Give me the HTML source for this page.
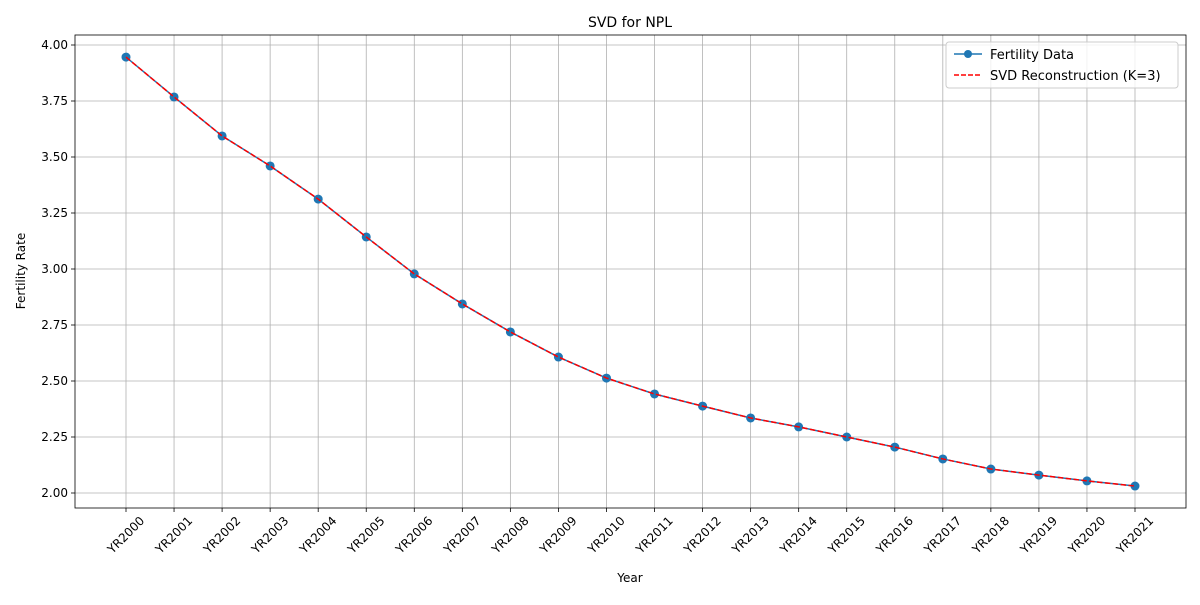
<!DOCTYPE html>
<html><head><meta charset="utf-8"><style>
body{margin:0;background:#fff;font-family:"Liberation Sans","DejaVu Sans",sans-serif;}
svg text{font-family:"DejaVu Sans","Liberation Sans",sans-serif;}
</style></head><body>
<svg id="chart" width="1200" height="600" xmlns="http://www.w3.org/2000/svg">
<rect width="1200" height="600" fill="#fff"/>
<g id="grid"></g>
<g id="axes"></g>
<g id="series"></g>
<text x="630" y="27" font-size="14" text-anchor="middle">SVD for NPL</text>
<text x="630" y="582" font-size="12" text-anchor="middle">Year</text>
<text x="25" y="271" font-size="12" text-anchor="middle" transform="rotate(-90 25 271)">Fertility Rate</text>
<g>
<rect x="946" y="42" width="232" height="46" fill="#fff" fill-opacity="0.8" stroke="#ccc" rx="3"/>
<g>
<line x1="954" y1="54" x2="982" y2="54" stroke="#1f77b4" stroke-width="1.5"/>
<circle cx="968" cy="54" r="4" fill="#1f77b4"/>
<text x="990" y="59" font-size="13">Fertility Data</text></g>
<g>
<line x1="954" y1="75" x2="982" y2="75" stroke="red" stroke-width="1.5" stroke-dasharray="5,2"/>
<text x="990" y="80" font-size="13">SVD Reconstruction (K=3)</text></g>
</g>
</svg>
<script>
const categories=["YR2000","YR2001","YR2002","YR2003","YR2004","YR2005","YR2006","YR2007","YR2008","YR2009","YR2010","YR2011","YR2012","YR2013","YR2014","YR2015","YR2016","YR2017","YR2018","YR2019","YR2020","YR2021"];
const fertility=[3.946,3.768,3.594,3.460,3.312,3.143,2.978,2.844,2.719,2.607,2.513,2.442,2.388,2.335,2.295,2.250,2.205,2.152,2.107,2.080,2.054,2.031];
const svdRecon=[3.946,3.768,3.594,3.460,3.312,3.143,2.978,2.844,2.719,2.607,2.513,2.442,2.388,2.335,2.295,2.250,2.205,2.152,2.107,2.080,2.054,2.031];
const yTicks=[2.00,2.25,2.50,2.75,3.00,3.25,3.50,3.75,4.00];
const NS="http://www.w3.org/2000/svg";
const L=75,R=1186,T=35,B=508;
const x=i=>126+i*(1135-126)/(categories.length-1);
const y=v=>493-(v-2)*224;
function mk(tag,attrs,parent){const e=document.createElementNS(NS,tag);for(const k in attrs)e.setAttribute(k,attrs[k]);parent.appendChild(e);return e;}
const grid=document.getElementById('grid'),axes=document.getElementById('axes'),series=document.getElementById('series');
categories.forEach((c,i)=>{
  const g=mk('line',{x1:x(i),x2:x(i),y1:T,y2:B,stroke:'#b0b0b0','stroke-width':0.8},grid);
  
  
  mk('line',{x1:x(i),x2:x(i),y1:B,y2:B+4,stroke:'#000','stroke-width':0.8},axes);
  const cy=B+27;
  const t=mk('text',{x:x(i),y:cy+4,'font-size':12,'text-anchor':'middle',transform:`rotate(-45 ${x(i)} ${cy})`},axes);
  t.textContent=c;
  
  
});
yTicks.forEach(v=>{
  const g=mk('line',{x1:L,x2:R,y1:y(v),y2:y(v),stroke:'#b0b0b0','stroke-width':0.8},grid);
  
  
  mk('line',{x1:L-4,x2:L,y1:y(v),y2:y(v),stroke:'#000','stroke-width':0.8},axes);
  const t=mk('text',{x:L-7,y:y(v)+4,'font-size':12,'text-anchor':'end'},axes);
  t.textContent=v.toFixed(2);
  
  
});
const frame=mk('rect',{x:L,y:T,width:R-L,height:B-T,fill:'none',stroke:'#000','stroke-width':0.8},axes);


const p1=mk('polyline',{points:fertility.map((v,i)=>x(i)+','+y(v)).join(' '),fill:'none',stroke:'#1f77b4','stroke-width':1.5},series);


fertility.forEach((v,i)=>{
  const c=mk('circle',{cx:x(i),cy:y(v),r:4.5,fill:'#1f77b4'},series);
  
  
});
const p2=mk('polyline',{points:svdRecon.map((v,i)=>x(i)+','+y(v)).join(' '),fill:'none',stroke:'red','stroke-width':1.5,'stroke-dasharray':'5.5,2.4'},series);


</script>
</body></html>
